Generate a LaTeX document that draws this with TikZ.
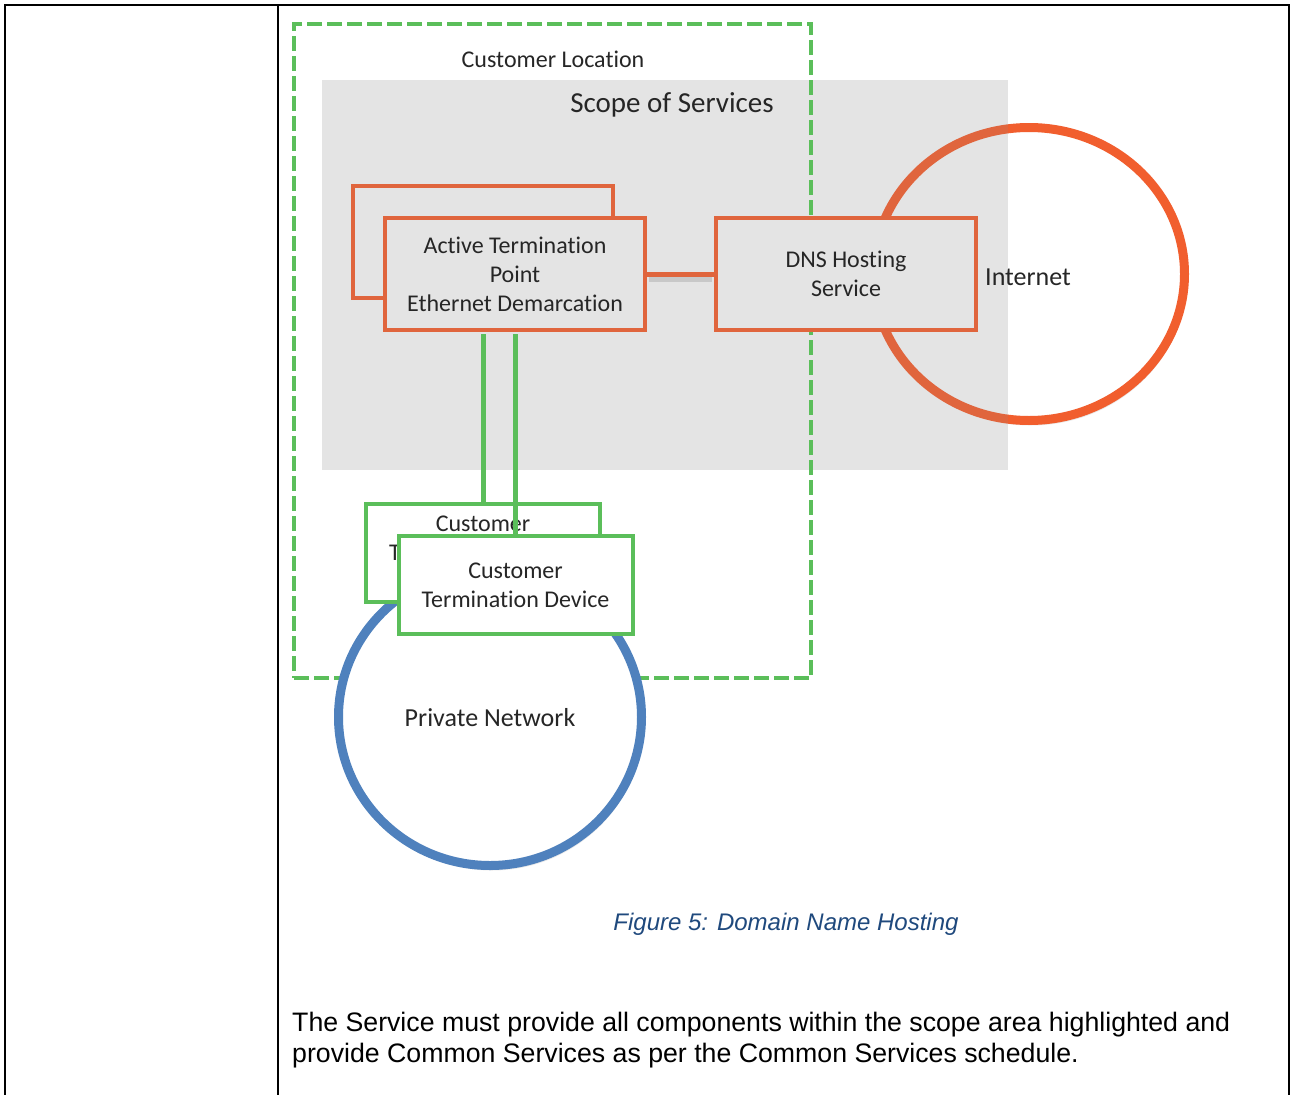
\documentclass[tikz,border=0pt]{standalone}
\usepackage{fontspec}
\setmainfont{Carlito}[Ligatures=CommonOff]
\newfontfamily\arialfont{Liberation Sans}
\usetikzlibrary{shapes.geometric, shadows}
\definecolor{verde}{RGB}{91,190,90}
\definecolor{naranja}{RGB}{224,101,61}
\definecolor{naranjaclaro}{RGB}{241,94,46}
\definecolor{azul}{RGB}{79,129,189}
\definecolor{gris}{RGB}{228,228,228}
\definecolor{texto}{RGB}{38,38,38}
\definecolor{titulo}{RGB}{31,73,125}
\tikzset{
	tabla/.style={line width=2.5pt, black}, % Lineas de la tabla
	caja/.style={draw=naranja, line width=4pt, fill=gris, minimum width=260, minimum height=112, inner sep=0pt, align=center, text=texto, font=\fontsize{24}{29}\selectfont}, % Cajas naranjas
	equipo/.style={draw=verde, line width=4pt, fill=white, minimum width=234, minimum height=98, inner sep=0pt, align=center, text=texto, font=\fontsize{24}{29}\selectfont}, % Cajas verdes
	nube/.style={ellipse, line width=9pt, fill=white, inner sep=0pt, text=texto, font=\fontsize{26}{31}\selectfont, drop shadow={shadow xshift=2pt, shadow yshift=-5pt, opacity=0.18}}, % Redes
	enlace/.style={line width=5pt}, % Conexiones entre cajas
	etiqueta/.style={text=texto, inner sep=0pt} % Textos sueltos
}

\begin{document}
\begin{tikzpicture}[x=1pt, y=-1pt]
	\useasboundingbox (0,0) rectangle (1291,1095);
	% tabla
	\draw[tabla] (5,1100) -- (5,5) -- (1289,5) -- (1289,1100);
	\draw[tabla] (278,5) -- (278,1100);
	% redes y zonas
	\node[nube, draw=naranjaclaro, minimum width=311, minimum height=293] (internet) at (1029,274) {};
	\node[fill=gris, minimum width=686, minimum height=390, inner sep=0pt] (alcance) at (665,275) {};
	\begin{scope}
		\clip (alcance.north west) rectangle (alcance.south east);
		\draw[naranja, line width=9pt] (internet.center) ellipse [x radius=155.5pt, y radius=146.5pt];
	\end{scope}
	\node[etiqueta, font=\fontsize{26}{31}\selectfont] (internettexto) at (1028,277) {Internet};
	\node[draw=verde, line width=4.5pt, dash pattern=on 15pt off 5pt, minimum width=517, minimum height=654, inner sep=0pt] (ubicacion) at (552.5,351) {};
	\node[etiqueta, font=\fontsize{24}{29}\selectfont] (ubicaciontexto) at (553,59) {Customer Location};
	\node[etiqueta, font=\fontsize{29}{34}\selectfont] (alcancetexto) at (672,105) {Scope of Services};
	\node[nube, draw=azul, minimum width=303, minimum height=297, text depth=-4pt] (privada) at (490,717) {Private Network};
	% cajas
	\node[caja] (atpfondo) at (482.5,242) {};
	\node[caja] (atp) at (515,274) {Active Termination\\Point\\Ethernet Demarcation};
	\node[caja] (dns) at (846,274) {DNS Hosting\\Service};
	\draw[enlace, black, opacity=0.12, shorten <=2pt, shorten >=2pt] ([yshift=-5pt]atp.east) -- ([yshift=-5pt]dns.west);
	\draw[enlace, naranja] (atp.east) -- (dns.west);
	\node[equipo] (ctdfondo) at (483,553) {Customer\\Termination Device\\~};
	\node[equipo] (ctd) at (515.5,585) {Customer\\Termination Device};
	\draw[enlace, verde, shorten <=2pt] (ctdfondo.north |- atp.south) -- (ctdfondo.north);
	\draw[enlace, verde, shorten <=2pt] (atp.south) -- (atp.south |- ctd.north);
	% textos
	\node[etiqueta, text=titulo, font=\arialfont\itshape\fontsize{24}{29}\selectfont] (leyenda) at (786,924) {Figure 5: Domain Name Hosting};
	\node[etiqueta, text=black, anchor=north west, align=left, font=\arialfont\fontsize{26.7}{31}\selectfont] (parrafo) at (292,1012) {The Service must provide all components within the scope area highlighted and\\provide Common Services as per the Common Services schedule.};
\end{tikzpicture}
\end{document}
